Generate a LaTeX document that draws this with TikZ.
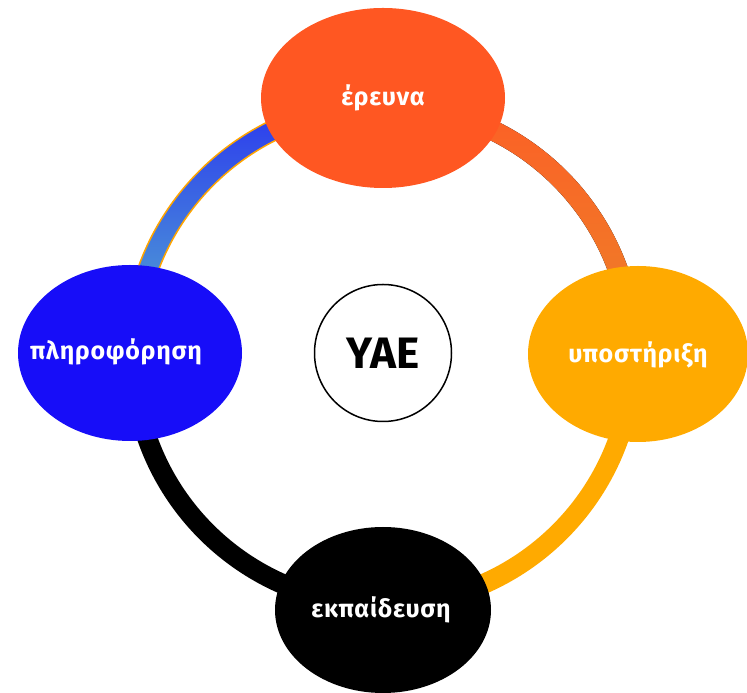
\documentclass[tikz,border=0pt]{standalone}
\usepackage{fontspec}
\setmainfont{Fira Sans}
\newfontfamily\lblfont[LetterSpace=3]{Fira Sans}
\usetikzlibrary{shapes.geometric,calc}
\definecolor{cTop}{HTML}{FF5722}
\definecolor{cRight}{HTML}{FFAA00}
\definecolor{cLeft}{HTML}{170DF8}
\definecolor{cArcA}{HTML}{FC5F26}
\definecolor{cArcB}{HTML}{EF7D28}
\definecolor{cBlueA}{HTML}{2A36EF}
\definecolor{cBlueB}{HTML}{4F9FD4}
\definecolor{cEdge}{HTML}{FFA500}
\tikzset{
  blob/.style={ellipse, draw=none, inner sep=0pt},
  lbl/.style={text=white, font=\lblfont\bfseries\fontsize{25}{25}\selectfont},
}
\begin{document}
\begin{tikzpicture}[x=1pt,y=1pt]
\useasboundingbox (0,0) rectangle (747,693);
\coordinate (C) at (383,338);
% ring arcs
\fill[top color=cArcA, bottom color=cArcB]
  ($(C)+(10:260)$) arc (10:80:260) -- ($(C)+(80:240)$) arc (80:10:240) -- cycle;
\fill[cRight]
  ($(C)+(-80:260)$) arc (-80:-10:260) -- ($(C)+(-10:240)$) arc (-10:-80:240) -- cycle;
\fill[black]
  ($(C)+(190:260)$) arc (190:260:260) -- ($(C)+(260:240)$) arc (260:190:240) -- cycle;
\shade[top color=cBlueA, bottom color=cBlueB, draw=cEdge, line width=1.5pt]
  ($(C)+(100:260)$) arc (100:170:260) -- ($(C)+(170:240)$) arc (170:100:240) -- cycle;
% ellipses
\node[blob, fill=cTop, minimum width=244pt, minimum height=180pt] (top) at (383,595) {};
\node[blob, fill=cRight, minimum width=220pt, minimum height=176pt] (right) at (638,339) {};
\node[blob, fill=cLeft, minimum width=224pt, minimum height=176pt] (left) at (130,340) {};
\node[blob, fill=black, minimum width=216pt, minimum height=166pt] (bottom) at (383,83) {};
\node[circle, draw=black, line width=1.5pt, fill=white, minimum size=137pt, inner sep=0pt] (mid) at (383,340) {};
% labels
\node[lbl] (ttop) at (383,595) {έρευνα};
\node[lbl] (tright) at (638,338) {υποστήριξη};
\node[lbl] (tleft) at (116,341) {πληροφόρηση};
\node[lbl] (tbottom) at (381,83) {εκπαίδευση};
\node[font=\bfseries\fontsize{44}{44}\selectfont] (tmid) at (383,340) {YAE};
\end{tikzpicture}
\end{document}
